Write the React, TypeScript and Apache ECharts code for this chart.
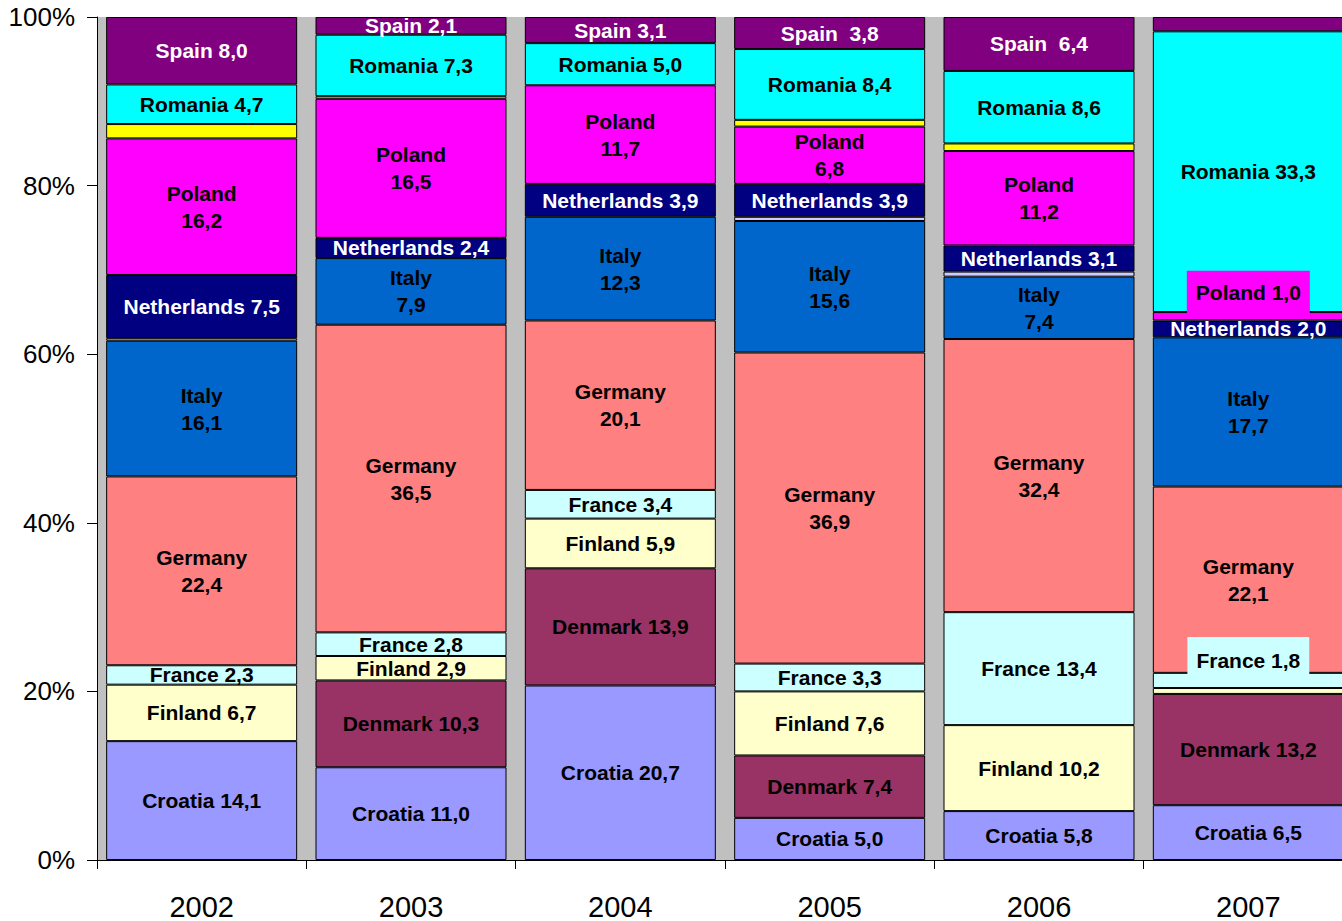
import React, { useEffect, useRef } from 'react';
import * as echarts from 'echarts';

const years = ['2002', '2003', '2004', '2005', '2006', '2007'];

const croatia = [14.1, 11.0, 20.7, 5.0, 5.8, 6.5];
const denmark = [null, 10.3, 13.9, 7.4, null, 13.2];
const finland = [6.7, 2.9, 5.9, 7.6, 10.2, 0.7];
const france = [2.3, 2.8, 3.4, 3.3, 13.4, 1.8];
const germany = [22.4, 36.5, 20.1, 36.9, 32.4, 22.1];
const italy = [16.1, 7.9, 12.3, 15.6, 7.4, 17.7];
const lithuania = [0.3, null, null, 0.5, 0.6, null];
const netherlands = [7.5, 2.4, 3.9, 3.9, 3.1, 2.0];
const poland = [16.2, 16.5, 11.7, 6.8, 11.2, 1.0];
const portugal = [1.7, 0.3, null, 0.8, 0.9, null];
const romania = [4.7, 7.3, 5.0, 8.4, 8.6, 33.3];
const spain = [8.0, 2.1, 3.1, 3.8, 6.4, 1.7];

// label layout hints (which year indices get two-line / hidden / wide-gap labels)
const twoLineLabels: Record<string, number[]> = {
  Germany: [0, 1, 2, 3, 4, 5],
  Italy: [0, 1, 2, 3, 4, 5],
  Poland: [0, 1, 2, 3, 4],
};
const hiddenLabels: Record<string, number[]> = { Finland: [5], Spain: [5], Lithuania: [0, 1, 2, 3, 4, 5], Portugal: [0, 1, 2, 3, 4, 5] };
const wideGapLabels: Record<string, number[]> = { Spain: [3, 4] };

const seriesDefs = [
  { name: 'Croatia', data: croatia, color: '#9999FF', text: '#000000' },
  { name: 'Denmark', data: denmark, color: '#993366', text: '#000000' },
  { name: 'Finland', data: finland, color: '#FFFFCC', text: '#000000' },
  { name: 'France', data: france, color: '#CCFFFF', text: '#000000' },
  { name: 'Germany', data: germany, color: '#FF8080', text: '#000000' },
  { name: 'Italy', data: italy, color: '#0066CC', text: '#000000' },
  { name: 'Lithuania', data: lithuania, color: '#CCCCFF', text: '#000000' },
  { name: 'Netherlands', data: netherlands, color: '#000080', text: '#FFFFFF' },
  { name: 'Poland', data: poland, color: '#FF00FF', text: '#000000' },
  { name: 'Portugal', data: portugal, color: '#FFFF00', text: '#000000' },
  { name: 'Romania', data: romania, color: '#00FFFF', text: '#000000' },
  { name: 'Spain', data: spain, color: '#800080', text: '#FFFFFF' },
];

// moved labels with their own background box
const boxedLabels: Record<string, Record<number, any>> = {
  Poland: { 5: { offset: [0, -24], backgroundColor: '#FF00FF', padding: [8, 9] } },
  France: { 5: { offset: [0, -20], backgroundColor: '#CCFFFF', padding: [10, 9] } },
};

const fmt = (v: number) => v.toFixed(1).replace('.', ',');

const FONT = '"Liberation Sans", Arial, sans-serif';

export default function App() {
  const ref = useRef<HTMLDivElement>(null);
  useEffect(() => {
    if (!ref.current) return;
    const chart = echarts.init(ref.current, undefined, { renderer: 'svg' });
    const series = seriesDefs.map((s) => ({
      name: s.name,
      type: 'bar',
      stack: 'total',
      barWidth: 191,
      itemStyle: { color: s.color, borderColor: '#000000', borderWidth: 1 },
      label: {
        show: true,
        position: 'inside',
        color: s.text,
        fontFamily: FONT,
        fontWeight: 'bold',
        fontSize: 21,
        lineHeight: 27,
        formatter: (p: any) => {
          const i = p.dataIndex;
          const v = p.value;
          if (v == null || (hiddenLabels[s.name] || []).includes(i)) return '';
          if ((twoLineLabels[s.name] || []).includes(i)) return `${s.name}\n${fmt(v)}`;
          const sep = (wideGapLabels[s.name] || []).includes(i) ? '  ' : ' ';
          return `${s.name}${sep}${fmt(v)}`;
        },
      },
      data: s.data.map((v, i) => {
        const box = boxedLabels[s.name] && boxedLabels[s.name][i];
        if (v == null) return '-';
        return box ? { value: v, label: box } : v;
      }),
    }));
    chart.setOption({
      animation: false,
      backgroundColor: '#FFFFFF',
      grid: {
        left: 97,
        top: 17,
        width: 1256,
        height: 844,
        show: true,
        backgroundColor: '#C0C0C0',
        borderWidth: 0,
      },
      xAxis: {
        type: 'category',
        data: years,
        axisLine: { show: true, lineStyle: { color: '#000000', width: 1 } },
        axisTick: { show: true, length: 9, lineStyle: { color: '#000000' } },
        axisLabel: { fontFamily: FONT, fontSize: 29, color: '#000000', margin: 32 },
        splitLine: { show: false },
      },
      yAxis: {
        type: 'value',
        min: 0,
        max: 100,
        interval: 20,
        axisLine: { show: true, lineStyle: { color: '#000000', width: 1 } },
        axisTick: { show: true, length: 10, lineStyle: { color: '#000000' } },
        axisLabel: { fontFamily: FONT, fontSize: 26, color: '#000000', margin: 22, formatter: '{value}%' },
        splitLine: { show: false },
      },
      series,
    });
    return () => chart.dispose();
  }, []);
  return (
    <div style={{ position: 'fixed', left: 0, top: 0, width: 1342, height: 921, overflow: 'hidden', background: '#FFFFFF' }}>
      <div ref={ref} style={{ width: 1360, height: 921 }} />
    </div>
  );
}
